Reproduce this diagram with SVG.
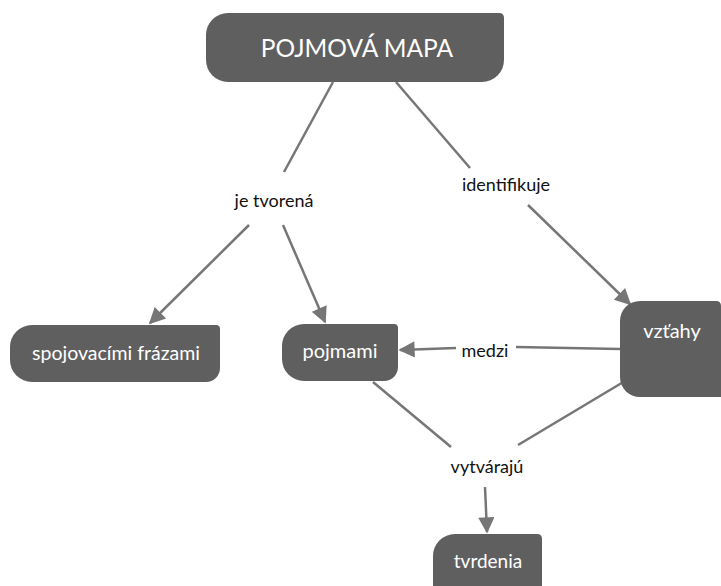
<svg xmlns="http://www.w3.org/2000/svg" width="721" height="586" viewBox="0 0 721 586">
  <style>
    .node { fill: #5f5f5f; }
    .ntext { fill: #ffffff; font-family: Lato, "Noto Sans", sans-serif; text-anchor: middle; }
    .label { fill: #111111; font-family: Lato, "Noto Sans", sans-serif; font-size: 18px; text-anchor: middle; }
    .conn { stroke: #767676; stroke-width: 2.5; fill: none; }
  </style>
  <defs>
    <marker id="arrow" viewBox="0 0 10 10" refX="9" refY="5" markerWidth="7.5" markerHeight="6.5" markerUnits="strokeWidth" orient="auto">
      <path d="M0,0 L10,5 L0,10 Z" fill="#767676"/>
    </marker>
  </defs>
  <rect width="721" height="586" fill="#ffffff"/>

  <g id="connectors">
    <line class="conn" x1="333" y1="82" x2="284" y2="172"/>
    <line class="conn" x1="396" y1="82" x2="470" y2="168"/>
    <line class="conn" x1="249" y1="225" x2="150" y2="323" marker-end="url(#arrow)"/>
    <line class="conn" x1="283" y1="225" x2="325" y2="322" marker-end="url(#arrow)"/>
    <line class="conn" x1="528" y1="205" x2="630" y2="304" marker-end="url(#arrow)"/>
    <line class="conn" x1="620" y1="349" x2="516" y2="347"/>
    <line class="conn" x1="456" y1="348" x2="400" y2="350" marker-end="url(#arrow)"/>
    <line class="conn" x1="373" y1="382" x2="451" y2="447"/>
    <line class="conn" x1="625" y1="381" x2="518" y2="445"/>
    <line class="conn" x1="485" y1="487" x2="487" y2="532" marker-end="url(#arrow)"/>
  </g>

  <g id="node-pojmova-mapa">
    <path class="node" d="M228 13 H499 Q504 13 504 18 V60 A22 22 0 0 1 482 82 H228 A22 22 0 0 1 206 60 V35 A22 22 0 0 1 228 13 Z"/>
    <text class="ntext" x="357" y="57" font-size="24.5">POJMOVÁ MAPA</text>
  </g>

  <g id="label-je-tvorena">
    <text class="label" x="274" y="207">je tvorená</text>
  </g>

  <g id="label-identifikuje">
    <text class="label" x="506" y="191">identifikuje</text>
  </g>

  <g id="node-spojovacimi-frazami">
    <path class="node" d="M32 325 H216 Q220 325 220 329 V368 A14 14 0 0 1 206 382 H32 A22 22 0 0 1 10 360 V347 A22 22 0 0 1 32 325 Z"/>
    <text class="ntext" x="116" y="360" font-size="19.5">spojovacími frázami</text>
  </g>

  <g id="node-pojmami">
    <path class="node" d="M304 324 H394 Q398 324 398 328 V367 A14 14 0 0 1 384 381 H304 A22 22 0 0 1 282 359 V346 A22 22 0 0 1 304 324 Z"/>
    <text class="ntext" x="340" y="358" font-size="20">pojmami</text>
  </g>

  <g id="label-medzi">
    <text class="label" x="485" y="357">medzi</text>
  </g>

  <g id="node-vztahy">
    <path class="node" d="M640 301 H716 Q721 301 721 306 V397 H640 A20 20 0 0 1 620 377 V321 A20 20 0 0 1 640 301 Z"/>
    <text class="ntext" x="672" y="338" font-size="20">vzťahy</text>
  </g>

  <g id="label-vytvaraju">
    <text class="label" x="487" y="473">vytvárajú</text>
  </g>

  <g id="node-tvrdenia">
    <path class="node" d="M455 534 H537 Q542 534 542 539 V590 H433 V556 A22 22 0 0 1 455 534 Z"/>
    <text class="ntext" x="488" y="568" font-size="19">tvrdenia</text>
  </g>
</svg>
